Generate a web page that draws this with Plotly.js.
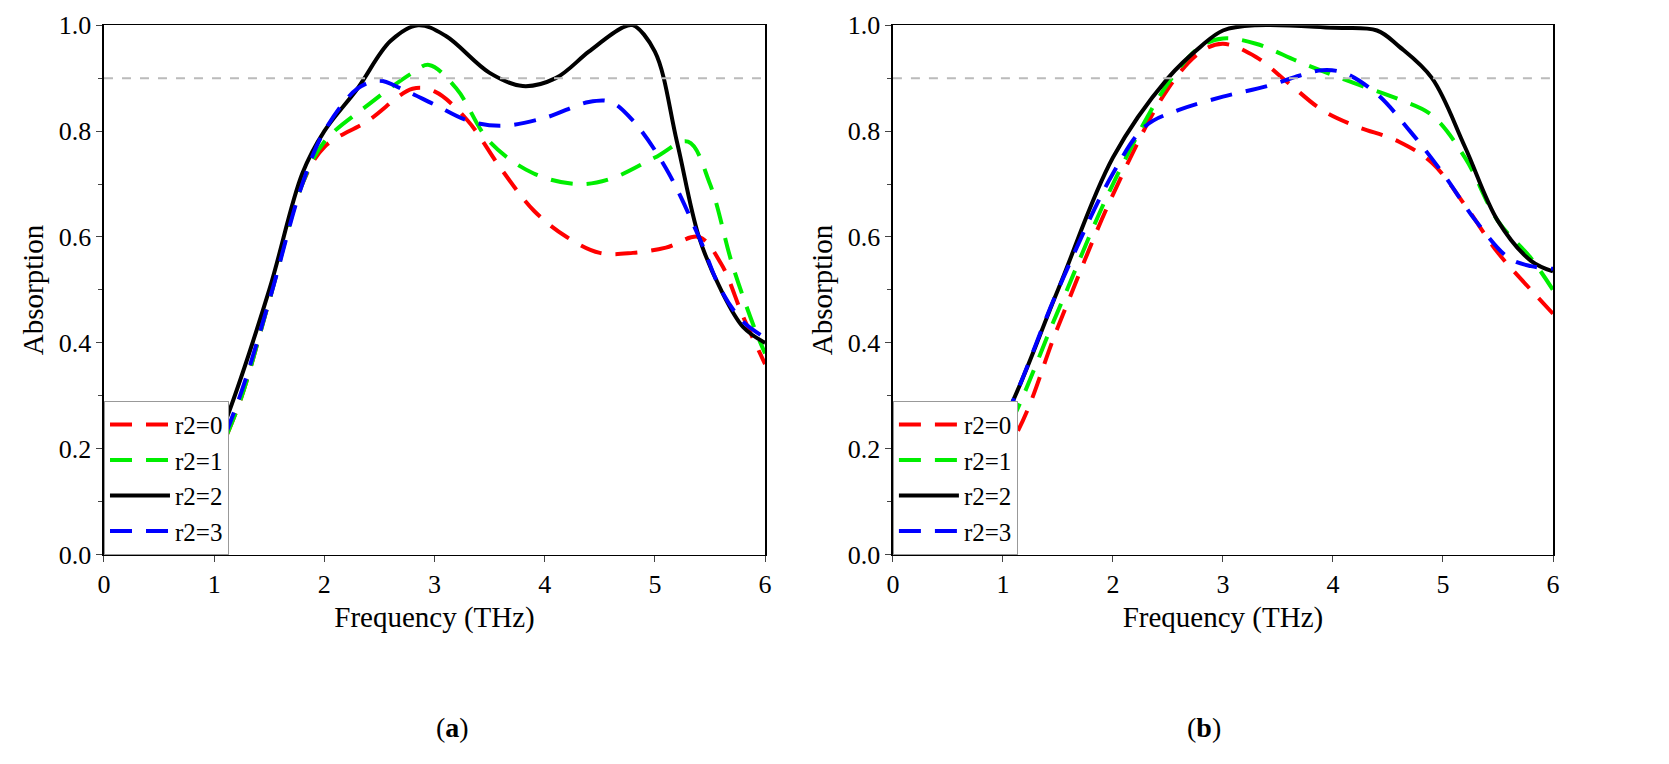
<!DOCTYPE html><html><head><script src="https://cdn.plot.ly/plotly-3.0.1.min.js"></script>
<style>body{margin:0;background:#fff}</style></head><body><div id="g" style="width:1669px;height:764px"></div><script>
const names=['r2=0','r2=1','r2=2','r2=3'];
const colors=['#ff0000','#00ee00','#000000','#0000ff'];
const aX=[[0,0.5,0.9,1.2,1.5,1.8,2,2.4,2.8,3.0,3.3,3.6,3.9,4.2,4.5,4.8,5.1,5.4,5.6,5.8,6],
[0,0.5,0.9,1.2,1.5,1.8,2,2.4,2.8,2.95,3.2,3.5,3.9,4.3,4.6,5.0,5.3,5.5,5.7,5.9,6],
[0,0.5,0.9,1.1,1.5,1.8,2,2.3,2.6,2.85,3.1,3.5,3.8,4.1,4.4,4.7,4.8,5.0,5.2,5.4,5.6,5.8,6],
[0,0.5,0.9,1.2,1.5,1.8,2,2.3,2.5,2.7,3.0,3.3,3.6,4.0,4.4,4.6,4.8,5.1,5.4,5.6,5.8,6]];
const aY=[[0.01,0.04,0.14,0.27,0.48,0.7,0.77,0.82,0.88,0.875,0.82,0.73,0.65,0.6,0.57,0.57,0.58,0.6,0.55,0.45,0.36],
[0.01,0.04,0.14,0.27,0.48,0.7,0.78,0.85,0.91,0.925,0.88,0.78,0.72,0.70,0.71,0.75,0.78,0.7,0.55,0.43,0.38],
[0.01,0.05,0.15,0.25,0.5,0.72,0.8,0.88,0.97,1.0,0.98,0.91,0.885,0.9,0.95,0.995,1.0,0.95,0.78,0.6,0.5,0.43,0.4],
[0.01,0.04,0.14,0.28,0.48,0.7,0.8,0.88,0.895,0.88,0.85,0.82,0.81,0.825,0.855,0.855,0.82,0.73,0.6,0.5,0.44,0.41]];
const bX=[[0,0.5,1.1,1.5,2,2.5,2.8,3.0,3.3,3.6,3.9,4.2,4.6,4.9,5.2,5.5,5.8,6],
[0,0.5,1,1.5,2,2.5,2.8,3.0,3.3,3.7,4.2,4.6,4.9,5.2,5.5,5.8,6],
[0,0.5,1,1.5,2,2.5,2.8,3.0,3.3,4.0,4.4,4.6,4.9,5.2,5.5,5.8,6],
[0,0.5,1,1.5,2,2.3,2.6,3.0,3.4,3.7,3.9,4.1,4.4,4.7,5.0,5.3,5.6,5.8,6]];
const bY=[[0,0.06,0.22,0.43,0.68,0.88,0.95,0.965,0.94,0.89,0.84,0.81,0.78,0.74,0.66,0.57,0.5,0.455],
[0,0.07,0.22,0.46,0.7,0.89,0.96,0.975,0.965,0.93,0.89,0.86,0.83,0.75,0.63,0.56,0.5],
[0,0.08,0.25,0.5,0.75,0.9,0.96,0.99,1.0,0.995,0.99,0.96,0.9,0.77,0.63,0.555,0.535],
[0,0.08,0.25,0.5,0.72,0.81,0.84,0.865,0.885,0.905,0.915,0.91,0.87,0.8,0.72,0.63,0.56,0.545,0.54]];
const ticks=[0,1,2,3,4,5,6];
const F='Liberation Serif, Times New Roman, serif';
const traces=[];
function add(X,Y,xa,ya,lg){for(let i=0;i<4;i++)traces.push({x:X[i],y:Y[i],xaxis:xa,yaxis:ya,legend:lg,name:names[i],mode:'lines',line:{color:colors[i],width:4,dash:i==2?'solid':'22px,14px',shape:'spline'},showlegend:true});
 traces.push({x:[0,6],y:[0.9,0.9],xaxis:xa,yaxis:ya,mode:'lines',line:{color:'#bbbbbb',width:2,dash:'dash'},showlegend:false,hoverinfo:'skip'});}
add(aX,aY,'x','y','legend');add(bX,bY,'x2','y2','legend2');
function ax(d,anc){return {domain:d,anchor:anc,range:[0,6],tickvals:ticks,ticks:'outside',ticklen:6,showline:true,mirror:true,linecolor:'#000',linewidth:1.5,showgrid:false,zeroline:false,tickfont:{family:F,size:26,color:'#000'},title:{text:'Frequency (THz)',font:{family:F,size:29,color:'#000'},standoff:8}};}
function ay(anc){return {domain:[0.274,0.967],anchor:anc,range:[0,1],dtick:0.2,tickformat:'.1f',ticks:'outside',ticklen:6,minor:{dtick:0.1,ticks:'outside',ticklen:4},showline:true,mirror:true,linecolor:'#000',linewidth:1.5,showgrid:false,zeroline:false,tickfont:{family:F,size:26,color:'#000'},title:{text:'Absorption',font:{family:F,size:29,color:'#000'},standoff:6}};}
const leg=(x)=>({x:x,y:0.274,xanchor:'left',yanchor:'bottom',bgcolor:'#fff',bordercolor:'#999',borderwidth:1,font:{family:F,size:25,color:'#000'},tracegroupgap:0,itemwidth:60});
Plotly.newPlot('g',traces,{width:1669,height:764,margin:{l:0,r:0,t:0,b:0},plot_bgcolor:'#fff',paper_bgcolor:'#fff',
xaxis:ax([0.0623,0.4584],'y'),yaxis:ay('x'),xaxis2:ax([0.535,0.9305],'y2'),yaxis2:ay('x2'),
legend:leg(0.0623),legend2:leg(0.535),
annotations:[{text:'(<b>a</b>)',x:0.26,y:0.025,xref:'paper',yref:'paper',showarrow:false,font:{family:F,size:28,color:'#000'}},
{text:'(<b>b</b>)',x:0.733,y:0.025,xref:'paper',yref:'paper',showarrow:false,font:{family:F,size:28,color:'#000'}}]},{staticPlot:true});
</script></body></html>
